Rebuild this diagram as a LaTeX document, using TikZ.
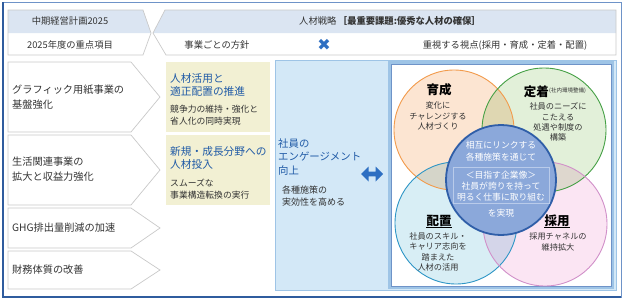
\documentclass[tikz,border=0pt]{standalone}
\usepackage{fontspec}
\setmainfont{Noto Sans CJK JP}
\newfontfamily\dejavu{DejaVu Sans}
\usetikzlibrary{shapes.arrows}
\definecolor{hdrblue}{HTML}{DBE5F2}
\definecolor{boxgray}{HTML}{C9C9C9}
\definecolor{frameblue}{HTML}{2F5C9E}
\definecolor{framelight}{HTML}{6E93C8}
\definecolor{yellowbox}{HTML}{F2F0D3}
\definecolor{panelblue}{HTML}{D3E8F7}
\definecolor{panelline}{HTML}{9EC4E6}
\definecolor{titleblue}{HTML}{1F5AA6}
\definecolor{txtgray}{HTML}{333333}
\definecolor{xblue}{HTML}{2E6FC2}
\definecolor{orfill}{HTML}{FCE5D2}
\definecolor{orline}{HTML}{F29B4C}
\definecolor{grfill}{HTML}{E2F0D9}
\definecolor{grline}{HTML}{45A045}
\definecolor{cyfill}{HTML}{D8EEF5}
\definecolor{cyline}{HTML}{2E96C6}
\definecolor{pkfill}{HTML}{FBE5F3}
\definecolor{pkline}{HTML}{D190C9}
\definecolor{cenfill}{HTML}{8BA8DA}
\definecolor{cenline}{HTML}{2F5EA8}
\definecolor{cenbox}{HTML}{B9CBEA}
\begin{document}
\begin{tikzpicture}[x=1pt,y=-1pt,
  txt/.style={inner sep=0pt, text=txtgray},
  hdr/.style={txt, font=\fontsize{9.3}{11}\selectfont},
  lefttxt/.style={txt, anchor=west, align=left, font=\fontsize{10.2}{14.5}\selectfont},
  ytitle/.style={inner sep=0pt, anchor=west, align=left, text=titleblue, font=\fontsize{10.7}{13}\selectfont},
  ysub/.style={txt, anchor=west, align=left, font=\fontsize{8.8}{12}\selectfont},
  vtitle/.style={txt, text=black, font=\bfseries\fontsize{12.5}{14}\selectfont},
  vbody/.style={txt, align=center, font=\fontsize{8.2}{10.3}\selectfont},
  cbody/.style={inner sep=0pt, text=white, align=center, font=\fontsize{8.8}{11.5}\selectfont},
  chev/.style={draw=boxgray, fill=white, line width=0.7pt},
  vfill/.style={blend mode=multiply}
]
\useasboundingbox (0,0) rectangle (624,300);
% outer frame
\draw[framelight, line width=0.8pt] (2.5,2.5) rectangle (621,297);
\draw[frameblue, line width=2pt] (2.5,2) -- (2.5,297) -- (621,297);

% left header
\fill[hdrblue] (8,10) -- (143,10) -- (151,33) -- (8,33) -- cycle;
\draw[boxgray, line width=0.7pt] (8,10) -- (143,10) -- (151,33) -- (143,55) -- (8,55) -- cycle;
\node[hdr] (h1) at (70,21) {中期経営計画2025};
\node[hdr] (h2) at (70,45) {2025年度の重点項目};

% right header
\fill[hdrblue] (165,10) -- (616,10) -- (616,33) -- (153,33) -- cycle;
\draw[boxgray, line width=0.7pt] (165,10) -- (616,10) -- (616,55) -- (166,55) -- (153,33) -- cycle;
\node[hdr] (h3) at (390,21) {人材戦略\,\textbf{［最重要課題:優秀な人材の確保］}};
\node[hdr] (h4) at (217,45) {事業ごとの方針};
\node[inner sep=0pt, text=xblue, font=\dejavu\fontsize{16}{16}\selectfont] (hx) at (324,45) {✖};
\node[hdr] (h5) at (505,45) {重視する視点(採用・育成・定着・配置)};

% left chevrons
\draw[chev] (8,62) -- (131,62) -- (160,97) -- (131,132) -- (8,132) -- cycle;
\draw[chev] (8,135) -- (131,135) -- (160,170) -- (131,205) -- (8,205) -- cycle;
\draw[chev] (8,208) -- (131,208) -- (160,228) -- (131,248) -- (8,248) -- cycle;
\draw[chev] (8,251) -- (131,251) -- (160,270) -- (131,289) -- (8,289) -- cycle;
\node[lefttxt] (l1) at (12,97) {グラフィック用紙事業の\\基盤強化};
\node[lefttxt] (l2) at (12,169) {生活関連事業の\\拡大と収益力強化};
\node[lefttxt] (l3) at (12,228) {GHG排出量削減の加速};
\node[lefttxt] (l4) at (12,270) {財務体質の改善};

% yellow boxes
\fill[yellowbox] (166,62) rectangle (270,132);
\fill[yellowbox] (166,135) rectangle (270,205);
\node[ytitle] (y1t) at (170,84.5) {人材活用と\\適正配置の推進};
\node[ysub] (y1s) at (170,115.5) {競争力の維持・強化と\\省人化の同時実現};
\node[ytitle] (y2t) at (170,157.5) {新規・成長分野への\\人材投入};
\node[ysub] (y2s) at (170,189) {スムーズな\\事業構造転換の実行};

% light blue panel
\draw[panelline, fill=panelblue, line width=0.7pt] (275,60) rectangle (616,290);
\node[ytitle, font=\fontsize{10.4}{13.5}\selectfont] (p1) at (278,157) {社員の\\エンゲージメント\\向上};
\node[ysub, font=\fontsize{9}{12}\selectfont] (p2) at (282,196) {各種施策の\\実効性を高める};
\node[double arrow, fill=xblue, draw=none, minimum width=15pt, minimum height=22pt,
      double arrow head extend=3.5pt, inner sep=1.5pt] (arr) at (372,174) {};

% venn box
\draw[panelline, fill=white, line width=2.2pt] (389.5,62.5) rectangle (612.5,287.5);
\draw[framelight, line width=0.6pt] (391,64) rectangle (611,286);

% venn circles
\fill[orfill, vfill] (454,130) circle (60);
\fill[grfill, vfill] (544,130) circle (62);
\fill[cyfill, vfill] (456,223) circle (61);
\fill[pkfill, vfill] (545,224) circle (62);
\draw[orline, line width=0.9pt] (454,130) circle (60);
\draw[grline, line width=0.9pt] (544,130) circle (62);
\draw[cyline, line width=0.9pt] (456,223) circle (61);
\draw[pkline, line width=0.9pt] (545,224) circle (62);

% venn texts
\node[vtitle] (v1) at (439,90) {育成};
\node[vbody] (v1b) at (438,116) {変化に\\チャレンジする\\人材づくり};
\node[vtitle, anchor=east] (v2) at (549,92) {定着};
\node[txt, anchor=west, font=\fontsize{5.5}{6}\selectfont] (v2s) at ([yshift=1.5pt]v2.east) {(社内環境整備)};
\node[vbody] (v2b) at (558,122) {社員のニーズに\\こたえる\\処遇や制度の\\構築};
\node[vtitle] (v3) at (439,221) {配置};
\node[vbody] (v3b) at (438,252) {社員のスキル・\\キャリア志向を\\踏まえた\\人材の活用};
\node[vtitle] (v4) at (557,221) {採用};
\node[vbody] (v4b) at (558,242) {採用チャネルの\\維持拡大};
\draw[black, line width=0.6pt] ([yshift=-0.5pt]v3.south west) -- ([yshift=-0.5pt]v3.south east);
\draw[black, line width=0.6pt] ([yshift=-0.5pt]v4.south west) -- ([yshift=-0.5pt]v4.south east);

% central circle
\draw[cenline, fill=cenfill, line width=1.8pt] (501,180) circle (55);
\node[cbody] (c1) at (501,151) {相互にリンクする\\各種施策を通じて};
\draw[cenbox, line width=0.7pt] (453,167) rectangle (549,203);
\node[cbody, font=\fontsize{8.8}{11}\selectfont] (c2) at (501,186) {＜目指す企業像＞\\社員が誇りを持って\\明るく仕事に取り組む};
\node[cbody] (c3) at (501,213) {を実現};
\end{tikzpicture}
\end{document}
